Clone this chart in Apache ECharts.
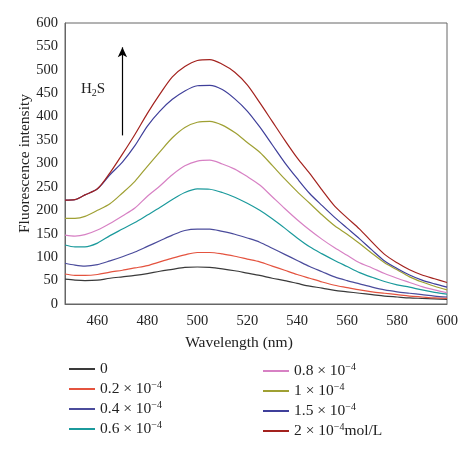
<!DOCTYPE html>
<html><head><meta charset="utf-8">
<script src="https://cdn.jsdelivr.net/npm/echarts@6/dist/echarts.min.js"></script>
<style>html,body{margin:0;padding:0;background:#fff}#c{width:474px;height:452px}</style>
</head><body><div id="c"></div>
<script>
const wavelengths = [447,451,455,460,465,470,475,480,485,490,495,500,505,510,515,520,525,530,535,540,545,550,555,560,565,570,575,580,585,590,595,600];
const c0   = [53,51,50,51,55,58,61,65,70,74,78,79,78,75,71,66,61,55,50,44,38,34,29,26,23,20,17,15,13,12,11,10];
const c02  = [64,61,61,63,68,72,77,82,90,98,105,110,110,107,102,96,90,81,72,63,55,47,40,35,30,26,23,20,17,15,13,12];
const c04  = [87,83,81,84,92,101,111,123,135,147,157,160,160,155,149,141,132,119,106,93,80,69,58,50,43,36,30,26,23,20,17,15];
const c06  = [126,122,122,130,146,160,174,190,206,223,238,246,245,238,228,215,200,182,162,141,122,107,93,80,67,57,48,41,36,30,25,21];
const c08  = [147,145,148,158,172,188,205,230,252,276,295,305,307,299,288,272,254,229,204,180,158,138,120,104,88,77,65,55,46,37,30,24];
const c10  = [183,183,187,200,214,237,262,294,325,355,377,388,390,382,366,345,324,296,267,240,215,190,167,149,129,108,88,73,58,47,38,30];
const c15  = [222,223,233,246,276,303,338,380,412,437,455,466,467,458,438,412,378,340,302,268,236,210,185,162,139,115,92,76,62,51,43,36];
const c20  = [222,223,233,246,280,320,362,407,448,485,507,520,522,512,495,468,430,390,350,312,279,243,209,184,160,132,106,88,73,62,54,46];
const seriesNames = ['0','0.2','0.4','0.6','0.8','1','1.5','2'];
const seriesData = [c0,c02,c04,c06,c08,c10,c15,c20];
const colors = ['#3a3a3a','#e4533f','#4b4c9c','#1b9a9c','#d781c4','#9fa033','#3f3f9a','#a3221e'];
const xTicks = [460,480,500,520,540,560,580,600];

const font = "'Liberation Serif', 'DejaVu Serif', serif";
const labelMap = {
  '0':'0',
  '0.2':'0.2 × 10{s|−4}',
  '0.4':'0.4 × 10{s|−4}',
  '0.6':'0.6 × 10{s|−4}',
  '0.8':'0.8 × 10{s|−4}',
  '1':'1 × 10{s|−4}',
  '1.5':'1.5 × 10{s|−4}',
  '2':'2 × 10{s|−4}mol/L'
};
const rich = {s:{fontSize:10, verticalAlign:'top', padding:[0,0,8,0], fontFamily:font, color:'#222'}};

const series = seriesNames.map((n,i)=>({
  name:n, type:'line', showSymbol:false, symbol:'none', smooth:0.3,
  lineStyle:{width:1.2, color:colors[i]}, itemStyle:{color:colors[i]},
  data: wavelengths.map((w,j)=>[w, seriesData[i][j]])
}));
series[0].markLine = {
  silent:true, symbol:['none','arrow'], symbolSize:[7,10],
  lineStyle:{color:'#000', width:1.2, type:'solid'}, label:{show:false},
  data:[[{coord:[470,360]},{coord:[470,548]}]]
};

const chart = echarts.init(document.getElementById('c'));
chart.setOption({
  animation:false,
  color: colors,
  grid:{left:65, right:27, top:23, bottom:148, show:true, borderColor:'#666', borderWidth:1},
  xAxis:{type:'value', min:447, max:600,
    name:'Wavelength (nm)', nameLocation:'middle', nameGap:31, nameMoveOverlap:false,
    nameTextStyle:{fontFamily:font, fontSize:15.5, color:'#222', padding:[0,34,0,0]},
    axisLine:{show:true, lineStyle:{color:'#666'}}, axisTick:{show:false}, splitLine:{show:false},
    axisLabel:{customValues:xTicks, fontFamily:font, fontSize:14.5, color:'#222', margin:10}},
  yAxis:{type:'value', min:0, max:600, interval:50,
    name:'Fluorescence intensity', nameLocation:'middle', nameGap:32, nameMoveOverlap:false,
    nameTextStyle:{fontFamily:font, fontSize:15.5, color:'#222'},
    axisLine:{show:true, lineStyle:{color:'#666'}}, axisTick:{show:false}, splitLine:{show:false},
    axisLabel:{fontFamily:font, fontSize:14.5, color:'#222', margin:7}},
  legend:[
    {data:['0','0.2','0.4','0.6'], orient:'vertical', left:64, top:356, itemWidth:26, itemHeight:2, itemGap:3,
     icon:'rect', formatter:n=>labelMap[n], textStyle:{fontFamily:font, fontSize:15.5, color:'#222', rich:rich}},
    {data:['0.8','1','1.5','2'], orient:'vertical', left:258, top:357, itemWidth:26, itemHeight:2, itemGap:3,
     icon:'rect', formatter:n=>labelMap[n], textStyle:{fontFamily:font, fontSize:15.5, color:'#222', rich:rich}}
  ],
  graphic:[{type:'text', left:81, top:82, style:{text:'H{b|2}S', font:'15px '+font, fill:'#222',
     rich:{b:{fontSize:10, verticalAlign:'bottom', padding:[8,0,0,0], fontFamily:font, fill:'#222'}}}}],
  series: series
});
</script></body></html>
